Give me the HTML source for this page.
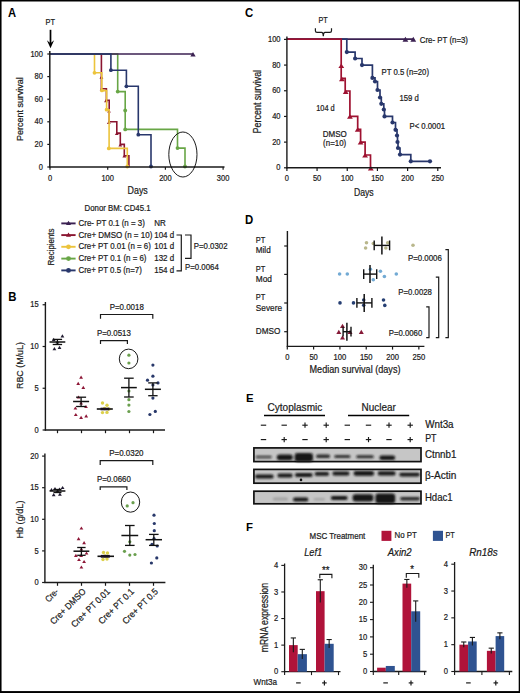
<!DOCTYPE html><html><head><meta charset="utf-8"><style>html,body{margin:0;padding:0;background:#fff;}svg{display:block;font-family:"Liberation Sans",sans-serif;}text{font-family:"Liberation Sans",sans-serif;}</style></head><body><svg width="520" height="693" viewBox="0 0 520 693" font-family="Liberation Sans, sans-serif" fill="#1a1a1a">
<rect x="0.00" y="0.00" width="520.00" height="693.00" fill="#ffffff"/>
<text x="7.90" y="16.60" font-size="11.87" font-weight="bold" fill="#000" textLength="8.09" lengthAdjust="spacingAndGlyphs">A</text>
<text x="50.30" y="25.20" font-size="8.58" text-anchor="middle" textLength="9.46" lengthAdjust="spacingAndGlyphs" stroke="#1a1a1a" stroke-width="0.22">PT</text>
<line x1="50.50" y1="29.80" x2="50.50" y2="44.00" stroke="#000" stroke-width="1.7"/>
<path d="M46.9,40.2 L50.5,48.3 L54.1,40.2 L50.5,43.2Z" fill="#000"/>
<path d="M50,54 H101.4 V88.7 H106.4 V100.3 H109.2 V121.8 H116.8 V133.1 H120.3 V144.4 H124.3 V155.7 H128.9 V167" stroke="#8a1530" stroke-width="1.6" fill="none"/>
<path d="M99.50,78.81 L101.40,75.59 L103.30,78.81Z" fill="#8a1530"/>
<path d="M99.70,90.52 L101.60,87.29 L103.50,90.52Z" fill="#8a1530"/>
<path d="M104.10,102.21 L106.00,98.98 L107.90,102.21Z" fill="#8a1530"/>
<path d="M107.10,112.61 L109.00,109.39 L110.90,112.61Z" fill="#8a1530"/>
<path d="M106.90,123.91 L108.80,120.69 L110.70,123.91Z" fill="#8a1530"/>
<path d="M114.90,135.12 L116.80,131.88 L118.70,135.12Z" fill="#8a1530"/>
<path d="M118.40,146.62 L120.30,143.38 L122.20,146.62Z" fill="#8a1530"/>
<path d="M122.40,157.62 L124.30,154.38 L126.20,157.62Z" fill="#8a1530"/>
<path d="M50,54 H94.5 V72.8 H101.8 V90.6 H106.6 V109.9 H109.1 V148.4 H127.3 V167" stroke="#ecc43c" stroke-width="1.6" fill="none"/>
<circle cx="94.50" cy="72.80" r="1.9" fill="#ecc43c"/>
<circle cx="101.90" cy="90.40" r="1.9" fill="#ecc43c"/>
<circle cx="106.60" cy="109.70" r="1.9" fill="#ecc43c"/>
<circle cx="108.80" cy="148.40" r="1.9" fill="#ecc43c"/>
<circle cx="127.30" cy="166.50" r="1.9" fill="#ecc43c"/>
<path d="M50,54 H117.7 V91.6 H125.2 V129.4 H177.5 V148.1 H185 V167" stroke="#68a646" stroke-width="1.6" fill="none"/>
<circle cx="117.70" cy="91.60" r="1.9" fill="#68a646"/>
<circle cx="125.20" cy="110.50" r="1.9" fill="#68a646"/>
<circle cx="125.20" cy="129.40" r="1.9" fill="#68a646"/>
<circle cx="177.50" cy="148.10" r="1.9" fill="#68a646"/>
<circle cx="185.00" cy="166.50" r="1.9" fill="#68a646"/>
<path d="M49.8,54 H193" stroke="#3b2152" stroke-width="1.6" fill="none"/>
<path d="M190.35,56.55 L193.00,52.05 L195.65,56.55Z" fill="#3b2152"/>
<path d="M50,54 H110.9 V70.2 H126.4 V86.3 H138.3 V134.7 H151 V167" stroke="#28376c" stroke-width="1.6" fill="none"/>
<circle cx="110.90" cy="70.20" r="1.9" fill="#28376c"/>
<circle cx="126.40" cy="86.30" r="1.9" fill="#28376c"/>
<circle cx="138.30" cy="134.70" r="1.9" fill="#28376c"/>
<circle cx="151.00" cy="166.50" r="1.9" fill="#28376c"/>
<line x1="49.80" y1="51.00" x2="49.80" y2="167.60" stroke="#1a1a1a" stroke-width="1.5"/>
<line x1="49.20" y1="167.00" x2="224.50" y2="167.00" stroke="#1a1a1a" stroke-width="1.4"/>
<line x1="47.30" y1="167.00" x2="49.80" y2="167.00" stroke="#1a1a1a" stroke-width="1.2"/>
<text x="42.90" y="169.60" font-size="8.70" text-anchor="end" textLength="4.17" lengthAdjust="spacingAndGlyphs" stroke="#1a1a1a" stroke-width="0.22">0</text>
<line x1="47.30" y1="144.40" x2="49.80" y2="144.40" stroke="#1a1a1a" stroke-width="1.2"/>
<text x="42.90" y="147.00" font-size="8.70" text-anchor="end" textLength="8.34" lengthAdjust="spacingAndGlyphs" stroke="#1a1a1a" stroke-width="0.22">20</text>
<line x1="47.30" y1="121.80" x2="49.80" y2="121.80" stroke="#1a1a1a" stroke-width="1.2"/>
<text x="42.90" y="124.40" font-size="8.70" text-anchor="end" textLength="8.34" lengthAdjust="spacingAndGlyphs" stroke="#1a1a1a" stroke-width="0.22">40</text>
<line x1="47.30" y1="99.20" x2="49.80" y2="99.20" stroke="#1a1a1a" stroke-width="1.2"/>
<text x="42.90" y="101.80" font-size="8.70" text-anchor="end" textLength="8.34" lengthAdjust="spacingAndGlyphs" stroke="#1a1a1a" stroke-width="0.22">60</text>
<line x1="47.30" y1="76.60" x2="49.80" y2="76.60" stroke="#1a1a1a" stroke-width="1.2"/>
<text x="42.90" y="79.20" font-size="8.70" text-anchor="end" textLength="8.34" lengthAdjust="spacingAndGlyphs" stroke="#1a1a1a" stroke-width="0.22">80</text>
<line x1="47.30" y1="54.00" x2="49.80" y2="54.00" stroke="#1a1a1a" stroke-width="1.2"/>
<text x="42.90" y="56.60" font-size="8.70" text-anchor="end" textLength="12.51" lengthAdjust="spacingAndGlyphs" stroke="#1a1a1a" stroke-width="0.22">100</text>
<line x1="50.00" y1="167.00" x2="50.00" y2="169.80" stroke="#1a1a1a" stroke-width="1.2"/>
<text x="50.00" y="181.40" font-size="8.70" text-anchor="middle" textLength="4.17" lengthAdjust="spacingAndGlyphs" stroke="#1a1a1a" stroke-width="0.22">0</text>
<line x1="107.70" y1="167.00" x2="107.70" y2="169.80" stroke="#1a1a1a" stroke-width="1.2"/>
<text x="107.70" y="181.40" font-size="8.70" text-anchor="middle" textLength="12.51" lengthAdjust="spacingAndGlyphs" stroke="#1a1a1a" stroke-width="0.22">100</text>
<line x1="165.40" y1="167.00" x2="165.40" y2="169.80" stroke="#1a1a1a" stroke-width="1.2"/>
<text x="165.40" y="181.40" font-size="8.70" text-anchor="middle" textLength="12.51" lengthAdjust="spacingAndGlyphs" stroke="#1a1a1a" stroke-width="0.22">200</text>
<line x1="223.10" y1="167.00" x2="223.10" y2="169.80" stroke="#1a1a1a" stroke-width="1.2"/>
<text x="223.10" y="181.40" font-size="8.70" text-anchor="middle" textLength="12.51" lengthAdjust="spacingAndGlyphs" stroke="#1a1a1a" stroke-width="0.22">300</text>
<text x="127.60" y="194.30" font-size="10.21" textLength="20.20" lengthAdjust="spacingAndGlyphs" stroke="#1a1a1a" stroke-width="0.22">Days</text>
<text x="23.30" y="141.00" font-size="9.43" textLength="63.80" lengthAdjust="spacingAndGlyphs" transform="rotate(-90 23.30 141.00)" stroke="#1a1a1a" stroke-width="0.22">Percent survival</text>
<ellipse cx="182.9" cy="154.5" rx="14.1" ry="22.5" fill="none" stroke="#000" stroke-width="0.9"/>
<text x="84.60" y="211.00" font-size="8.93" textLength="65.90" lengthAdjust="spacingAndGlyphs" stroke="#1a1a1a" stroke-width="0.22">Donor BM: CD45.1</text>
<line x1="61.30" y1="223.40" x2="75.60" y2="223.40" stroke="#3b2152" stroke-width="1.9"/>
<path d="M66.00,225.03 L68.50,220.78 L71.00,225.03Z" fill="#3b2152"/>
<text x="78.50" y="226.00" font-size="9.28" textLength="66.40" lengthAdjust="spacingAndGlyphs" stroke="#1a1a1a" stroke-width="0.22">Cre- PT 0.1 (n = 3)</text>
<text x="154.20" y="226.00" font-size="9.28" textLength="11.55" lengthAdjust="spacingAndGlyphs" stroke="#1a1a1a" stroke-width="0.22">NR</text>
<line x1="61.30" y1="235.10" x2="75.60" y2="235.10" stroke="#8a1530" stroke-width="1.9"/>
<path d="M66.00,236.72 L68.50,232.47 L71.00,236.72Z" fill="#8a1530"/>
<text x="78.50" y="237.70" font-size="9.28" textLength="73.80" lengthAdjust="spacingAndGlyphs" stroke="#1a1a1a" stroke-width="0.22">Cre+ DMSO (n = 10)</text>
<text x="154.20" y="237.70" font-size="9.28" textLength="20.02" lengthAdjust="spacingAndGlyphs" stroke="#1a1a1a" stroke-width="0.22">104 d</text>
<line x1="61.30" y1="246.80" x2="75.60" y2="246.80" stroke="#ecc43c" stroke-width="1.9"/>
<circle cx="68.50" cy="246.80" r="2.4" fill="#ecc43c"/>
<text x="78.50" y="249.40" font-size="9.28" textLength="72.30" lengthAdjust="spacingAndGlyphs" stroke="#1a1a1a" stroke-width="0.22">Cre+ PT 0.01 (n = 6)</text>
<text x="154.20" y="249.40" font-size="9.28" textLength="20.02" lengthAdjust="spacingAndGlyphs" stroke="#1a1a1a" stroke-width="0.22">101 d</text>
<line x1="61.30" y1="258.60" x2="75.60" y2="258.60" stroke="#68a646" stroke-width="1.9"/>
<circle cx="68.50" cy="258.60" r="2.4" fill="#68a646"/>
<text x="78.50" y="261.20" font-size="9.28" textLength="68.00" lengthAdjust="spacingAndGlyphs" stroke="#1a1a1a" stroke-width="0.22">Cre+ PT 0.1 (n = 6)</text>
<text x="154.20" y="261.20" font-size="9.28" textLength="20.02" lengthAdjust="spacingAndGlyphs" stroke="#1a1a1a" stroke-width="0.22">132 d</text>
<line x1="61.30" y1="270.40" x2="75.60" y2="270.40" stroke="#28376c" stroke-width="1.9"/>
<circle cx="68.50" cy="270.40" r="2.4" fill="#28376c"/>
<text x="78.50" y="273.00" font-size="9.28" textLength="63.30" lengthAdjust="spacingAndGlyphs" stroke="#1a1a1a" stroke-width="0.22">Cre+ PT 0.5 (n=7)</text>
<text x="154.20" y="273.00" font-size="9.28" textLength="20.02" lengthAdjust="spacingAndGlyphs" stroke="#1a1a1a" stroke-width="0.22">154 d</text>
<text x="53.90" y="265.40" font-size="9.16" textLength="36.90" lengthAdjust="spacingAndGlyphs" transform="rotate(-90 53.90 265.40)" stroke="#1a1a1a" stroke-width="0.22">Recipients</text>
<path d="M176.5,235 H181.3 V270.8 H176.5" stroke="#1a1a1a" stroke-width="1.2" fill="none"/>
<path d="M185,235 H191 V258.3 H185" stroke="#1a1a1a" stroke-width="1.2" fill="none"/>
<text x="193.80" y="248.80" font-size="9.05" textLength="33.70" lengthAdjust="spacingAndGlyphs" stroke="#1a1a1a" stroke-width="0.22">P=0.0302</text>
<text x="185.00" y="270.20" font-size="9.05" textLength="33.80" lengthAdjust="spacingAndGlyphs" stroke="#1a1a1a" stroke-width="0.22">P=0.0064</text>
<text x="8.20" y="301.20" font-size="12.08" font-weight="bold" fill="#000" textLength="8.23" lengthAdjust="spacingAndGlyphs">B</text>
<line x1="45.40" y1="302.00" x2="45.40" y2="430.60" stroke="#1a1a1a" stroke-width="1.4"/>
<line x1="44.80" y1="430.00" x2="165.00" y2="430.00" stroke="#1a1a1a" stroke-width="1.4"/>
<line x1="42.60" y1="430.00" x2="45.40" y2="430.00" stroke="#1a1a1a" stroke-width="1.2"/>
<text x="38.70" y="432.60" font-size="8.70" text-anchor="end" textLength="4.17" lengthAdjust="spacingAndGlyphs" stroke="#1a1a1a" stroke-width="0.22">0</text>
<line x1="42.60" y1="388.25" x2="45.40" y2="388.25" stroke="#1a1a1a" stroke-width="1.2"/>
<text x="38.70" y="390.85" font-size="8.70" text-anchor="end" textLength="4.17" lengthAdjust="spacingAndGlyphs" stroke="#1a1a1a" stroke-width="0.22">5</text>
<line x1="42.60" y1="346.50" x2="45.40" y2="346.50" stroke="#1a1a1a" stroke-width="1.2"/>
<text x="38.70" y="349.10" font-size="8.70" text-anchor="end" textLength="8.34" lengthAdjust="spacingAndGlyphs" stroke="#1a1a1a" stroke-width="0.22">10</text>
<line x1="42.60" y1="304.75" x2="45.40" y2="304.75" stroke="#1a1a1a" stroke-width="1.2"/>
<text x="38.70" y="307.35" font-size="8.70" text-anchor="end" textLength="8.34" lengthAdjust="spacingAndGlyphs" stroke="#1a1a1a" stroke-width="0.22">15</text>
<line x1="57.50" y1="430.00" x2="57.50" y2="433.20" stroke="#1a1a1a" stroke-width="1.2"/>
<line x1="81.50" y1="430.00" x2="81.50" y2="433.20" stroke="#1a1a1a" stroke-width="1.2"/>
<line x1="105.50" y1="430.00" x2="105.50" y2="433.20" stroke="#1a1a1a" stroke-width="1.2"/>
<line x1="129.50" y1="430.00" x2="129.50" y2="433.20" stroke="#1a1a1a" stroke-width="1.2"/>
<line x1="153.50" y1="430.00" x2="153.50" y2="433.20" stroke="#1a1a1a" stroke-width="1.2"/>
<text x="22.60" y="389.00" font-size="9.63" textLength="47.00" lengthAdjust="spacingAndGlyphs" transform="rotate(-90 22.60 389.00)" stroke="#1a1a1a" stroke-width="0.22">RBC (M/uL)</text>
<line x1="44.90" y1="453.50" x2="44.90" y2="583.10" stroke="#1a1a1a" stroke-width="1.4"/>
<line x1="44.30" y1="582.50" x2="165.40" y2="582.50" stroke="#1a1a1a" stroke-width="1.4"/>
<line x1="42.10" y1="582.50" x2="44.90" y2="582.50" stroke="#1a1a1a" stroke-width="1.2"/>
<text x="38.70" y="585.10" font-size="8.70" text-anchor="end" textLength="4.17" lengthAdjust="spacingAndGlyphs" stroke="#1a1a1a" stroke-width="0.22">0</text>
<line x1="42.10" y1="550.90" x2="44.90" y2="550.90" stroke="#1a1a1a" stroke-width="1.2"/>
<text x="38.70" y="553.50" font-size="8.70" text-anchor="end" textLength="4.17" lengthAdjust="spacingAndGlyphs" stroke="#1a1a1a" stroke-width="0.22">5</text>
<line x1="42.10" y1="519.30" x2="44.90" y2="519.30" stroke="#1a1a1a" stroke-width="1.2"/>
<text x="38.70" y="521.90" font-size="8.70" text-anchor="end" textLength="8.34" lengthAdjust="spacingAndGlyphs" stroke="#1a1a1a" stroke-width="0.22">10</text>
<line x1="42.10" y1="487.70" x2="44.90" y2="487.70" stroke="#1a1a1a" stroke-width="1.2"/>
<text x="38.70" y="490.30" font-size="8.70" text-anchor="end" textLength="8.34" lengthAdjust="spacingAndGlyphs" stroke="#1a1a1a" stroke-width="0.22">15</text>
<line x1="42.10" y1="456.10" x2="44.90" y2="456.10" stroke="#1a1a1a" stroke-width="1.2"/>
<text x="38.70" y="458.70" font-size="8.70" text-anchor="end" textLength="8.34" lengthAdjust="spacingAndGlyphs" stroke="#1a1a1a" stroke-width="0.22">20</text>
<line x1="57.50" y1="582.50" x2="57.50" y2="585.80" stroke="#1a1a1a" stroke-width="1.2"/>
<line x1="81.50" y1="582.50" x2="81.50" y2="585.80" stroke="#1a1a1a" stroke-width="1.2"/>
<line x1="105.50" y1="582.50" x2="105.50" y2="585.80" stroke="#1a1a1a" stroke-width="1.2"/>
<line x1="129.50" y1="582.50" x2="129.50" y2="585.80" stroke="#1a1a1a" stroke-width="1.2"/>
<line x1="153.50" y1="582.50" x2="153.50" y2="585.80" stroke="#1a1a1a" stroke-width="1.2"/>
<text x="22.60" y="538.60" font-size="9.63" textLength="38.10" lengthAdjust="spacingAndGlyphs" transform="rotate(-90 22.60 538.60)" stroke="#1a1a1a" stroke-width="0.22">Hb (g/dL)</text>
<text x="59.10" y="592.20" font-size="8.82" text-anchor="end" textLength="14.78" lengthAdjust="spacingAndGlyphs" transform="rotate(-45 59.10 592.20)" stroke="#1a1a1a" stroke-width="0.22">Cre-</text>
<text x="86.50" y="592.20" font-size="9.05" text-anchor="end" textLength="46.38" lengthAdjust="spacingAndGlyphs" transform="rotate(-45 86.50 592.20)" stroke="#1a1a1a" stroke-width="0.22">Cre+ DMSO</text>
<text x="110.50" y="592.20" font-size="9.05" text-anchor="end" textLength="50.63" lengthAdjust="spacingAndGlyphs" transform="rotate(-45 110.50 592.20)" stroke="#1a1a1a" stroke-width="0.22">Cre+ PT 0.01</text>
<text x="134.50" y="592.20" font-size="9.05" text-anchor="end" textLength="45.92" lengthAdjust="spacingAndGlyphs" transform="rotate(-45 134.50 592.20)" stroke="#1a1a1a" stroke-width="0.22">Cre+ PT 0.1</text>
<text x="158.50" y="592.20" font-size="9.05" text-anchor="end" textLength="45.92" lengthAdjust="spacingAndGlyphs" transform="rotate(-45 158.50 592.20)" stroke="#1a1a1a" stroke-width="0.22">Cre+ PT 0.5</text>
<path d="M100.5,318.8 V314.5 H152.8 V318.8" stroke="#1a1a1a" stroke-width="1.2" fill="none"/>
<text x="109.70" y="309.60" font-size="9.05" textLength="34.10" lengthAdjust="spacingAndGlyphs" stroke="#1a1a1a" stroke-width="0.22">P=0.0018</text>
<path d="M100.5,344 V340.7 H127.4 V344" stroke="#1a1a1a" stroke-width="1.2" fill="none"/>
<text x="96.90" y="335.80" font-size="9.05" textLength="33.90" lengthAdjust="spacingAndGlyphs" stroke="#1a1a1a" stroke-width="0.22">P=0.0513</text>
<path d="M100.2,465 V460.7 H152.8 V465" stroke="#1a1a1a" stroke-width="1.2" fill="none"/>
<text x="109.20" y="456.10" font-size="9.05" textLength="34.30" lengthAdjust="spacingAndGlyphs" stroke="#1a1a1a" stroke-width="0.22">P=0.0320</text>
<path d="M100.2,490 V486.8 H126.9 V490" stroke="#1a1a1a" stroke-width="1.2" fill="none"/>
<text x="96.90" y="481.90" font-size="9.05" textLength="33.90" lengthAdjust="spacingAndGlyphs" stroke="#1a1a1a" stroke-width="0.22">P=0.0660</text>
<ellipse cx="128.6" cy="358.9" rx="9.3" ry="9.8" fill="none" stroke="#000" stroke-width="0.9"/>
<ellipse cx="130.5" cy="502.1" rx="9.2" ry="10.1" fill="none" stroke="#000" stroke-width="0.9"/>
<path d="M60.50,337.42 L62.40,334.19 L64.30,337.42Z" fill="#221d33"/>
<path d="M51.80,341.01 L53.70,337.78 L55.60,341.01Z" fill="#221d33"/>
<path d="M52.50,350.22 L54.40,346.99 L56.30,350.22Z" fill="#221d33"/>
<path d="M57.60,349.01 L59.50,345.78 L61.40,349.01Z" fill="#221d33"/>
<path d="M55.50,343.62 L57.40,340.38 L59.30,343.62Z" fill="#221d33"/>
<line x1="49.50" y1="342.00" x2="65.30" y2="342.00" stroke="#111" stroke-width="1.5"/>
<line x1="57.40" y1="339.40" x2="57.40" y2="344.50" stroke="#111" stroke-width="1.3"/>
<line x1="52.70" y1="339.40" x2="62.10" y2="339.40" stroke="#111" stroke-width="1.3"/>
<line x1="52.70" y1="344.50" x2="62.10" y2="344.50" stroke="#111" stroke-width="1.3"/>
<path d="M79.20,378.81 L81.10,375.58 L83.00,378.81Z" fill="#8d1636"/>
<path d="M76.30,385.01 L78.20,381.78 L80.10,385.01Z" fill="#8d1636"/>
<path d="M81.40,388.92 L83.30,385.69 L85.20,388.92Z" fill="#8d1636"/>
<path d="M76.60,398.62 L78.50,395.38 L80.40,398.62Z" fill="#8d1636"/>
<path d="M73.50,409.62 L75.40,406.38 L77.30,409.62Z" fill="#8d1636"/>
<path d="M84.10,408.12 L86.00,404.88 L87.90,408.12Z" fill="#8d1636"/>
<path d="M73.90,416.12 L75.80,412.88 L77.70,416.12Z" fill="#8d1636"/>
<path d="M79.20,419.01 L81.10,415.78 L83.00,419.01Z" fill="#8d1636"/>
<path d="M84.30,417.51 L86.20,414.28 L88.10,417.51Z" fill="#8d1636"/>
<path d="M79.20,404.62 L81.10,401.38 L83.00,404.62Z" fill="#8d1636"/>
<line x1="73.10" y1="401.50" x2="89.10" y2="401.50" stroke="#111" stroke-width="1.5"/>
<line x1="81.10" y1="397.20" x2="81.10" y2="406.50" stroke="#111" stroke-width="1.3"/>
<line x1="76.10" y1="397.20" x2="86.10" y2="397.20" stroke="#111" stroke-width="1.3"/>
<line x1="76.10" y1="406.50" x2="86.10" y2="406.50" stroke="#111" stroke-width="1.3"/>
<circle cx="102.50" cy="403.00" r="1.7" fill="#dcd04a"/>
<circle cx="107.00" cy="405.30" r="1.7" fill="#dcd04a"/>
<circle cx="102.50" cy="412.60" r="1.7" fill="#dcd04a"/>
<circle cx="107.00" cy="412.40" r="1.7" fill="#dcd04a"/>
<circle cx="104.50" cy="408.50" r="1.7" fill="#dcd04a"/>
<circle cx="109.00" cy="409.00" r="1.7" fill="#dcd04a"/>
<line x1="96.80" y1="409.00" x2="112.80" y2="409.00" stroke="#111" stroke-width="1.6"/>
<line x1="100.50" y1="409.00" x2="109.20" y2="409.00" stroke="#1a1020" stroke-width="2.6"/>
<circle cx="128.90" cy="355.20" r="1.6" fill="#6a9f4e"/>
<circle cx="128.90" cy="363.00" r="1.6" fill="#6a9f4e"/>
<circle cx="128.90" cy="391.00" r="1.6" fill="#6a9f4e"/>
<circle cx="128.90" cy="399.70" r="1.6" fill="#6a9f4e"/>
<circle cx="128.90" cy="405.10" r="1.6" fill="#6a9f4e"/>
<circle cx="128.90" cy="411.50" r="1.6" fill="#6a9f4e"/>
<line x1="121.00" y1="387.60" x2="136.80" y2="387.60" stroke="#111" stroke-width="1.5"/>
<line x1="128.90" y1="378.20" x2="128.90" y2="397.00" stroke="#111" stroke-width="1.3"/>
<line x1="124.10" y1="378.20" x2="133.70" y2="378.20" stroke="#111" stroke-width="1.3"/>
<line x1="124.10" y1="397.00" x2="133.70" y2="397.00" stroke="#111" stroke-width="1.3"/>
<circle cx="152.90" cy="365.10" r="1.6" fill="#28386a"/>
<circle cx="152.90" cy="376.20" r="1.6" fill="#28386a"/>
<circle cx="147.50" cy="380.20" r="1.6" fill="#28386a"/>
<circle cx="158.00" cy="382.90" r="1.6" fill="#28386a"/>
<circle cx="152.90" cy="385.00" r="1.6" fill="#28386a"/>
<circle cx="152.90" cy="398.10" r="1.6" fill="#28386a"/>
<circle cx="155.30" cy="411.40" r="1.6" fill="#28386a"/>
<circle cx="149.90" cy="414.50" r="1.6" fill="#28386a"/>
<line x1="144.90" y1="389.30" x2="160.90" y2="389.30" stroke="#111" stroke-width="1.5"/>
<line x1="152.90" y1="382.90" x2="152.90" y2="395.70" stroke="#111" stroke-width="1.3"/>
<line x1="148.20" y1="382.90" x2="157.60" y2="382.90" stroke="#111" stroke-width="1.3"/>
<line x1="148.20" y1="395.70" x2="157.60" y2="395.70" stroke="#111" stroke-width="1.3"/>
<path d="M49.60,491.12 L51.50,487.88 L53.40,491.12Z" fill="#221d33"/>
<path d="M53.10,490.12 L55.00,486.88 L56.90,490.12Z" fill="#221d33"/>
<path d="M57.60,490.62 L59.50,487.38 L61.40,490.62Z" fill="#221d33"/>
<path d="M60.70,489.12 L62.60,485.88 L64.50,489.12Z" fill="#221d33"/>
<path d="M51.80,496.22 L53.70,492.99 L55.60,496.22Z" fill="#221d33"/>
<path d="M58.00,495.81 L59.90,492.58 L61.80,495.81Z" fill="#221d33"/>
<path d="M55.60,492.62 L57.50,489.38 L59.40,492.62Z" fill="#221d33"/>
<line x1="49.60" y1="491.00" x2="65.40" y2="491.00" stroke="#111" stroke-width="1.5"/>
<line x1="57.50" y1="489.50" x2="57.50" y2="492.50" stroke="#111" stroke-width="1.3"/>
<line x1="53.50" y1="489.50" x2="61.50" y2="489.50" stroke="#111" stroke-width="1.3"/>
<line x1="53.50" y1="492.50" x2="61.50" y2="492.50" stroke="#111" stroke-width="1.3"/>
<path d="M79.50,529.62 L81.40,526.38 L83.30,529.62Z" fill="#8d1636"/>
<path d="M76.70,540.22 L78.60,536.99 L80.50,540.22Z" fill="#8d1636"/>
<path d="M82.20,544.32 L84.10,541.09 L86.00,544.32Z" fill="#8d1636"/>
<path d="M74.00,556.91 L75.90,553.68 L77.80,556.91Z" fill="#8d1636"/>
<path d="M79.20,556.91 L81.10,553.68 L83.00,556.91Z" fill="#8d1636"/>
<path d="M84.60,554.62 L86.50,551.38 L88.40,554.62Z" fill="#8d1636"/>
<path d="M77.10,561.12 L79.00,557.88 L80.90,561.12Z" fill="#8d1636"/>
<path d="M82.20,563.12 L84.10,559.88 L86.00,563.12Z" fill="#8d1636"/>
<path d="M79.50,568.62 L81.40,565.38 L83.30,568.62Z" fill="#8d1636"/>
<path d="M79.50,550.62 L81.40,547.38 L83.30,550.62Z" fill="#8d1636"/>
<line x1="73.50" y1="551.20" x2="89.30" y2="551.20" stroke="#111" stroke-width="1.5"/>
<line x1="81.40" y1="547.50" x2="81.40" y2="555.30" stroke="#111" stroke-width="1.3"/>
<line x1="77.20" y1="547.50" x2="85.60" y2="547.50" stroke="#111" stroke-width="1.3"/>
<line x1="77.20" y1="555.30" x2="85.60" y2="555.30" stroke="#111" stroke-width="1.3"/>
<circle cx="103.50" cy="552.50" r="1.7" fill="#dcd04a"/>
<circle cx="107.50" cy="553.00" r="1.7" fill="#dcd04a"/>
<circle cx="103.00" cy="559.50" r="1.7" fill="#dcd04a"/>
<circle cx="107.00" cy="559.00" r="1.7" fill="#dcd04a"/>
<circle cx="105.00" cy="556.00" r="1.7" fill="#dcd04a"/>
<line x1="97.50" y1="556.30" x2="114.00" y2="556.30" stroke="#111" stroke-width="1.6"/>
<line x1="100.80" y1="556.30" x2="109.80" y2="556.30" stroke="#1a1020" stroke-width="2.8"/>
<circle cx="127.20" cy="505.90" r="1.6" fill="#6a9f4e"/>
<circle cx="133.00" cy="502.70" r="1.6" fill="#6a9f4e"/>
<circle cx="124.50" cy="551.30" r="1.6" fill="#6a9f4e"/>
<circle cx="129.80" cy="555.10" r="1.6" fill="#6a9f4e"/>
<circle cx="135.00" cy="554.50" r="1.6" fill="#6a9f4e"/>
<circle cx="129.80" cy="541.80" r="1.6" fill="#6a9f4e"/>
<line x1="121.40" y1="535.50" x2="138.20" y2="535.50" stroke="#111" stroke-width="1.5"/>
<line x1="129.80" y1="525.50" x2="129.80" y2="545.40" stroke="#111" stroke-width="1.3"/>
<line x1="125.00" y1="525.50" x2="134.60" y2="525.50" stroke="#111" stroke-width="1.3"/>
<line x1="125.00" y1="545.40" x2="134.60" y2="545.40" stroke="#111" stroke-width="1.3"/>
<circle cx="154.00" cy="515.20" r="1.6" fill="#28386a"/>
<circle cx="154.30" cy="523.50" r="1.6" fill="#28386a"/>
<circle cx="154.30" cy="530.70" r="1.6" fill="#28386a"/>
<circle cx="154.00" cy="538.50" r="1.6" fill="#28386a"/>
<circle cx="152.00" cy="544.30" r="1.6" fill="#28386a"/>
<circle cx="157.20" cy="546.00" r="1.6" fill="#28386a"/>
<circle cx="156.80" cy="557.90" r="1.6" fill="#28386a"/>
<circle cx="151.40" cy="563.00" r="1.6" fill="#28386a"/>
<line x1="145.60" y1="539.70" x2="162.00" y2="539.70" stroke="#111" stroke-width="1.5"/>
<line x1="153.80" y1="534.40" x2="153.80" y2="545.40" stroke="#111" stroke-width="1.3"/>
<line x1="149.00" y1="534.40" x2="158.60" y2="534.40" stroke="#111" stroke-width="1.3"/>
<line x1="149.00" y1="545.40" x2="158.60" y2="545.40" stroke="#111" stroke-width="1.3"/>
<text x="244.90" y="16.60" font-size="12.08" font-weight="bold" fill="#000" textLength="8.23" lengthAdjust="spacingAndGlyphs">C</text>
<text x="318.50" y="22.70" font-size="8.58" textLength="9.20" lengthAdjust="spacingAndGlyphs" stroke="#1a1a1a" stroke-width="0.22">PT</text>
<path d="M315.4,28.2 V30.8 Q315.4,32.4 317,32.4 H321.6 Q323.2,32.4 323.3,36.2 Q323.4,32.4 325,32.4 H329.9 Q331.5,32.4 331.5,30.8 V28.2" stroke="#1a1a1a" stroke-width="1.2" fill="none"/>
<path d="M286.9,39.1 H413" stroke="#3b2152" stroke-width="1.6" fill="none"/>
<path d="M402.50,41.67 L405.40,36.73 L408.30,41.67Z" fill="#3b2152"/>
<path d="M410.40,41.67 L413.30,36.73 L416.20,41.67Z" fill="#3b2152"/>
<text x="419.80" y="42.60" font-size="8.82" textLength="48.20" lengthAdjust="spacingAndGlyphs" stroke="#1a1a1a" stroke-width="0.22">Cre- PT (n=3)</text>
<path d="M286.9,39.1 H346.8 H346.8 V52.1 H355.1 V58.5 H362.0 V65.1 H372.4 V77.9 H375.0 V81.5 H377.5 V90.0 H380.0 V97.5 H381.3 V103.8 H383.8 V109.5 H384.5 V116.4 H392.5 V122.5 H395.5 V129.8 H397.0 V135.5 H397.5 V142.0 H398.0 V148.0 H400.0 V154.6 H410.8 V161.3 H430" stroke="#28376c" stroke-width="1.7" fill="none"/>
<circle cx="346.80" cy="52.10" r="2.1" fill="#28376c"/>
<circle cx="355.10" cy="58.50" r="2.1" fill="#28376c"/>
<circle cx="362.00" cy="65.10" r="2.1" fill="#28376c"/>
<circle cx="372.40" cy="77.90" r="2.1" fill="#28376c"/>
<circle cx="375.00" cy="81.50" r="2.1" fill="#28376c"/>
<circle cx="377.50" cy="90.00" r="2.1" fill="#28376c"/>
<circle cx="380.00" cy="97.50" r="2.1" fill="#28376c"/>
<circle cx="381.30" cy="103.80" r="2.1" fill="#28376c"/>
<circle cx="383.80" cy="109.50" r="2.1" fill="#28376c"/>
<circle cx="384.50" cy="116.40" r="2.1" fill="#28376c"/>
<circle cx="392.50" cy="122.50" r="2.1" fill="#28376c"/>
<circle cx="395.50" cy="129.80" r="2.1" fill="#28376c"/>
<circle cx="397.00" cy="135.50" r="2.1" fill="#28376c"/>
<circle cx="397.50" cy="142.00" r="2.1" fill="#28376c"/>
<circle cx="398.00" cy="148.00" r="2.1" fill="#28376c"/>
<circle cx="400.00" cy="154.60" r="2.1" fill="#28376c"/>
<circle cx="410.80" cy="161.30" r="2.1" fill="#28376c"/>
<circle cx="430.00" cy="161.30" r="2.1" fill="#28376c"/>
<path d="M286.9,39.1 H341.2 V78.4 H345.2 V91 H349.9 V116.4 H357.7 V129.3 H360.6 V142.1 H365.1 V155 H370.5 V167.8" stroke="#9e1231" stroke-width="1.7" fill="none"/>
<path d="M338.40,68.06 L341.30,63.54 L344.20,68.06Z" fill="#9e1231"/>
<path d="M339.00,81.26 L341.90,76.74 L344.80,81.26Z" fill="#9e1231"/>
<path d="M342.80,93.96 L345.70,89.44 L348.60,93.96Z" fill="#9e1231"/>
<path d="M347.00,118.86 L349.90,114.34 L352.80,118.86Z" fill="#9e1231"/>
<path d="M354.80,131.76 L357.70,127.24 L360.60,131.76Z" fill="#9e1231"/>
<path d="M357.70,144.56 L360.60,140.04 L363.50,144.56Z" fill="#9e1231"/>
<path d="M362.20,157.46 L365.10,152.94 L368.00,157.46Z" fill="#9e1231"/>
<path d="M367.90,170.46 L370.80,165.94 L373.70,170.46Z" fill="#9e1231"/>
<line x1="286.90" y1="36.50" x2="286.90" y2="168.40" stroke="#1a1a1a" stroke-width="1.4"/>
<line x1="286.30" y1="167.80" x2="441.00" y2="167.80" stroke="#1a1a1a" stroke-width="1.4"/>
<line x1="284.00" y1="167.80" x2="286.90" y2="167.80" stroke="#1a1a1a" stroke-width="1.2"/>
<text x="280.50" y="170.40" font-size="8.70" text-anchor="end" textLength="4.17" lengthAdjust="spacingAndGlyphs" stroke="#1a1a1a" stroke-width="0.22">0</text>
<line x1="284.00" y1="142.12" x2="286.90" y2="142.12" stroke="#1a1a1a" stroke-width="1.2"/>
<text x="280.50" y="144.72" font-size="8.70" text-anchor="end" textLength="8.34" lengthAdjust="spacingAndGlyphs" stroke="#1a1a1a" stroke-width="0.22">20</text>
<line x1="284.00" y1="116.44" x2="286.90" y2="116.44" stroke="#1a1a1a" stroke-width="1.2"/>
<text x="280.50" y="119.04" font-size="8.70" text-anchor="end" textLength="8.34" lengthAdjust="spacingAndGlyphs" stroke="#1a1a1a" stroke-width="0.22">40</text>
<line x1="284.00" y1="90.76" x2="286.90" y2="90.76" stroke="#1a1a1a" stroke-width="1.2"/>
<text x="280.50" y="93.36" font-size="8.70" text-anchor="end" textLength="8.34" lengthAdjust="spacingAndGlyphs" stroke="#1a1a1a" stroke-width="0.22">60</text>
<line x1="284.00" y1="65.08" x2="286.90" y2="65.08" stroke="#1a1a1a" stroke-width="1.2"/>
<text x="280.50" y="67.68" font-size="8.70" text-anchor="end" textLength="8.34" lengthAdjust="spacingAndGlyphs" stroke="#1a1a1a" stroke-width="0.22">80</text>
<line x1="284.00" y1="39.40" x2="286.90" y2="39.40" stroke="#1a1a1a" stroke-width="1.2"/>
<text x="280.50" y="42.00" font-size="8.70" text-anchor="end" textLength="12.51" lengthAdjust="spacingAndGlyphs" stroke="#1a1a1a" stroke-width="0.22">100</text>
<line x1="286.90" y1="167.80" x2="286.90" y2="171.00" stroke="#1a1a1a" stroke-width="1.2"/>
<text x="286.90" y="181.20" font-size="8.70" text-anchor="middle" textLength="4.17" lengthAdjust="spacingAndGlyphs" stroke="#1a1a1a" stroke-width="0.22">0</text>
<line x1="317.07" y1="167.80" x2="317.07" y2="171.00" stroke="#1a1a1a" stroke-width="1.2"/>
<text x="317.07" y="181.20" font-size="8.70" text-anchor="middle" textLength="8.34" lengthAdjust="spacingAndGlyphs" stroke="#1a1a1a" stroke-width="0.22">50</text>
<line x1="347.25" y1="167.80" x2="347.25" y2="171.00" stroke="#1a1a1a" stroke-width="1.2"/>
<text x="347.25" y="181.20" font-size="8.70" text-anchor="middle" textLength="12.51" lengthAdjust="spacingAndGlyphs" stroke="#1a1a1a" stroke-width="0.22">100</text>
<line x1="377.42" y1="167.80" x2="377.42" y2="171.00" stroke="#1a1a1a" stroke-width="1.2"/>
<text x="377.42" y="181.20" font-size="8.70" text-anchor="middle" textLength="12.51" lengthAdjust="spacingAndGlyphs" stroke="#1a1a1a" stroke-width="0.22">150</text>
<line x1="407.60" y1="167.80" x2="407.60" y2="171.00" stroke="#1a1a1a" stroke-width="1.2"/>
<text x="407.60" y="181.20" font-size="8.70" text-anchor="middle" textLength="12.51" lengthAdjust="spacingAndGlyphs" stroke="#1a1a1a" stroke-width="0.22">200</text>
<line x1="437.77" y1="167.80" x2="437.77" y2="171.00" stroke="#1a1a1a" stroke-width="1.2"/>
<text x="437.77" y="181.20" font-size="8.70" text-anchor="middle" textLength="12.51" lengthAdjust="spacingAndGlyphs" stroke="#1a1a1a" stroke-width="0.22">250</text>
<text x="353.90" y="195.70" font-size="10.21" textLength="19.80" lengthAdjust="spacingAndGlyphs" stroke="#1a1a1a" stroke-width="0.22">Days</text>
<text x="261.30" y="133.40" font-size="10.23" textLength="63.50" lengthAdjust="spacingAndGlyphs" transform="rotate(-90 261.30 133.40)" stroke="#1a1a1a" stroke-width="0.22">Percent survival</text>
<text x="381.50" y="74.50" font-size="8.82" textLength="47.50" lengthAdjust="spacingAndGlyphs" stroke="#1a1a1a" stroke-width="0.22">PT 0.5 (n=20)</text>
<text x="316.20" y="110.60" font-size="8.82" textLength="18.50" lengthAdjust="spacingAndGlyphs" stroke="#1a1a1a" stroke-width="0.22">104 d</text>
<text x="399.50" y="100.60" font-size="8.82" textLength="19.30" lengthAdjust="spacingAndGlyphs" stroke="#1a1a1a" stroke-width="0.22">159 d</text>
<text x="322.70" y="137.20" font-size="8.82" textLength="24.00" lengthAdjust="spacingAndGlyphs" stroke="#1a1a1a" stroke-width="0.22">DMSO</text>
<text x="323.10" y="146.00" font-size="8.82" textLength="23.10" lengthAdjust="spacingAndGlyphs" stroke="#1a1a1a" stroke-width="0.22">(n=10)</text>
<text x="409.50" y="129.40" font-size="8.82" textLength="35.50" lengthAdjust="spacingAndGlyphs" stroke="#1a1a1a" stroke-width="0.22">P&lt; 0.0001</text>
<text x="245.00" y="224.20" font-size="12.08" font-weight="bold" fill="#000" textLength="8.23" lengthAdjust="spacingAndGlyphs">D</text>
<line x1="287.40" y1="231.00" x2="287.40" y2="347.00" stroke="#1a1a1a" stroke-width="1.4"/>
<line x1="286.80" y1="346.40" x2="424.40" y2="346.40" stroke="#1a1a1a" stroke-width="1.4"/>
<line x1="284.20" y1="246.00" x2="287.40" y2="246.00" stroke="#1a1a1a" stroke-width="1.2"/>
<line x1="284.20" y1="274.40" x2="287.40" y2="274.40" stroke="#1a1a1a" stroke-width="1.2"/>
<line x1="284.20" y1="303.00" x2="287.40" y2="303.00" stroke="#1a1a1a" stroke-width="1.2"/>
<line x1="284.20" y1="331.70" x2="287.40" y2="331.70" stroke="#1a1a1a" stroke-width="1.2"/>
<line x1="287.30" y1="346.40" x2="287.30" y2="349.60" stroke="#1a1a1a" stroke-width="1.2"/>
<text x="287.30" y="359.80" font-size="8.82" text-anchor="middle" textLength="4.23" lengthAdjust="spacingAndGlyphs" stroke="#1a1a1a" stroke-width="0.22">0</text>
<line x1="313.61" y1="346.40" x2="313.61" y2="349.60" stroke="#1a1a1a" stroke-width="1.2"/>
<text x="313.61" y="359.80" font-size="8.82" text-anchor="middle" textLength="8.45" lengthAdjust="spacingAndGlyphs" stroke="#1a1a1a" stroke-width="0.22">50</text>
<line x1="339.92" y1="346.40" x2="339.92" y2="349.60" stroke="#1a1a1a" stroke-width="1.2"/>
<text x="339.92" y="359.80" font-size="8.82" text-anchor="middle" textLength="12.68" lengthAdjust="spacingAndGlyphs" stroke="#1a1a1a" stroke-width="0.22">100</text>
<line x1="366.23" y1="346.40" x2="366.23" y2="349.60" stroke="#1a1a1a" stroke-width="1.2"/>
<text x="366.23" y="359.80" font-size="8.82" text-anchor="middle" textLength="12.68" lengthAdjust="spacingAndGlyphs" stroke="#1a1a1a" stroke-width="0.22">150</text>
<line x1="392.54" y1="346.40" x2="392.54" y2="349.60" stroke="#1a1a1a" stroke-width="1.2"/>
<text x="392.54" y="359.80" font-size="8.82" text-anchor="middle" textLength="12.68" lengthAdjust="spacingAndGlyphs" stroke="#1a1a1a" stroke-width="0.22">200</text>
<line x1="418.85" y1="346.40" x2="418.85" y2="349.60" stroke="#1a1a1a" stroke-width="1.2"/>
<text x="418.85" y="359.80" font-size="8.82" text-anchor="middle" textLength="12.68" lengthAdjust="spacingAndGlyphs" stroke="#1a1a1a" stroke-width="0.22">250</text>
<text x="309.50" y="372.60" font-size="10.21" textLength="91.00" lengthAdjust="spacingAndGlyphs" stroke="#1a1a1a" stroke-width="0.22">Median survival (days)</text>
<text x="255.80" y="243.00" font-size="9.28" textLength="9.50" lengthAdjust="spacingAndGlyphs" stroke="#1a1a1a" stroke-width="0.22">PT</text>
<text x="255.80" y="253.20" font-size="9.28" textLength="14.90" lengthAdjust="spacingAndGlyphs" stroke="#1a1a1a" stroke-width="0.22">Mild</text>
<text x="255.80" y="271.80" font-size="9.28" textLength="9.50" lengthAdjust="spacingAndGlyphs" stroke="#1a1a1a" stroke-width="0.22">PT</text>
<text x="255.80" y="281.90" font-size="9.28" textLength="16.20" lengthAdjust="spacingAndGlyphs" stroke="#1a1a1a" stroke-width="0.22">Mod</text>
<text x="255.80" y="300.00" font-size="9.28" textLength="9.50" lengthAdjust="spacingAndGlyphs" stroke="#1a1a1a" stroke-width="0.22">PT</text>
<text x="255.80" y="310.80" font-size="9.28" textLength="26.20" lengthAdjust="spacingAndGlyphs" stroke="#1a1a1a" stroke-width="0.22">Severe</text>
<text x="255.80" y="334.40" font-size="9.28" textLength="24.60" lengthAdjust="spacingAndGlyphs" stroke="#1a1a1a" stroke-width="0.22">DMSO</text>
<circle cx="366.50" cy="242.70" r="1.8" fill="#b9b78c"/>
<circle cx="365.60" cy="248.00" r="1.8" fill="#b9b78c"/>
<circle cx="373.30" cy="243.50" r="1.8" fill="#b9b78c"/>
<circle cx="387.70" cy="242.70" r="1.8" fill="#b9b78c"/>
<circle cx="385.80" cy="248.00" r="1.8" fill="#b9b78c"/>
<circle cx="413.00" cy="245.20" r="1.8" fill="#b9b78c"/>
<line x1="381.90" y1="236.40" x2="381.90" y2="254.40" stroke="#111" stroke-width="1.5"/>
<line x1="374.20" y1="245.40" x2="389.60" y2="245.40" stroke="#111" stroke-width="1.4"/>
<line x1="374.20" y1="240.50" x2="374.20" y2="250.30" stroke="#111" stroke-width="1.4"/>
<line x1="389.60" y1="240.50" x2="389.60" y2="250.30" stroke="#111" stroke-width="1.4"/>
<circle cx="339.60" cy="274.00" r="1.8" fill="#72aad4"/>
<circle cx="347.30" cy="274.00" r="1.8" fill="#72aad4"/>
<circle cx="380.40" cy="271.20" r="1.8" fill="#72aad4"/>
<circle cx="384.40" cy="276.50" r="1.8" fill="#72aad4"/>
<circle cx="373.30" cy="279.80" r="1.8" fill="#72aad4"/>
<circle cx="396.30" cy="274.00" r="1.8" fill="#72aad4"/>
<circle cx="370.40" cy="269.20" r="1.8" fill="#72aad4"/>
<line x1="370.00" y1="265.10" x2="370.00" y2="283.10" stroke="#111" stroke-width="1.5"/>
<line x1="363.70" y1="274.10" x2="376.70" y2="274.10" stroke="#111" stroke-width="1.4"/>
<line x1="363.70" y1="269.20" x2="363.70" y2="279.00" stroke="#111" stroke-width="1.4"/>
<line x1="376.70" y1="269.20" x2="376.70" y2="279.00" stroke="#111" stroke-width="1.4"/>
<circle cx="340.00" cy="302.90" r="1.8" fill="#263f73"/>
<circle cx="353.50" cy="302.90" r="1.8" fill="#263f73"/>
<circle cx="363.70" cy="300.00" r="1.8" fill="#263f73"/>
<circle cx="363.70" cy="305.20" r="1.8" fill="#263f73"/>
<circle cx="383.50" cy="300.00" r="1.8" fill="#263f73"/>
<circle cx="384.80" cy="305.40" r="1.8" fill="#263f73"/>
<line x1="364.20" y1="293.90" x2="364.20" y2="311.90" stroke="#111" stroke-width="1.5"/>
<line x1="356.90" y1="302.90" x2="371.90" y2="302.90" stroke="#111" stroke-width="1.4"/>
<line x1="356.90" y1="298.00" x2="356.90" y2="307.80" stroke="#111" stroke-width="1.4"/>
<line x1="371.90" y1="298.00" x2="371.90" y2="307.80" stroke="#111" stroke-width="1.4"/>
<path d="M336.30,334.02 L338.80,329.77 L341.30,334.02Z" fill="#861a38"/>
<path d="M340.00,327.93 L342.50,323.68 L345.00,327.93Z" fill="#861a38"/>
<path d="M340.00,339.52 L342.50,335.27 L345.00,339.52Z" fill="#861a38"/>
<path d="M347.50,334.02 L350.00,329.77 L352.50,334.02Z" fill="#861a38"/>
<path d="M358.80,334.02 L361.30,329.77 L363.80,334.02Z" fill="#861a38"/>
<line x1="346.90" y1="322.70" x2="346.90" y2="340.70" stroke="#111" stroke-width="1.5"/>
<line x1="343.10" y1="331.70" x2="351.00" y2="331.70" stroke="#111" stroke-width="1.4"/>
<line x1="343.10" y1="326.80" x2="343.10" y2="336.60" stroke="#111" stroke-width="1.4"/>
<line x1="351.00" y1="326.80" x2="351.00" y2="336.60" stroke="#111" stroke-width="1.4"/>
<path d="M445.4,249.6 H448.3 V337.7 H445.4" stroke="#1a1a1a" stroke-width="1.2" fill="none"/>
<path d="M435.8,277.1 H438.7 V337.7 H435.8" stroke="#1a1a1a" stroke-width="1.2" fill="none"/>
<path d="M426.2,306.9 H429.0 V337.7 H426.2" stroke="#1a1a1a" stroke-width="1.2" fill="none"/>
<text x="407.90" y="261.20" font-size="9.05" textLength="34.00" lengthAdjust="spacingAndGlyphs" stroke="#1a1a1a" stroke-width="0.22">P=0.0006</text>
<text x="398.30" y="295.20" font-size="9.05" textLength="33.60" lengthAdjust="spacingAndGlyphs" stroke="#1a1a1a" stroke-width="0.22">P=0.0028</text>
<text x="388.70" y="335.60" font-size="9.05" textLength="33.60" lengthAdjust="spacingAndGlyphs" stroke="#1a1a1a" stroke-width="0.22">P=0.0060</text>
<text x="246.10" y="402.00" font-size="11.40" font-weight="bold" fill="#000" textLength="7.60" lengthAdjust="spacingAndGlyphs">E</text>
<text x="267.50" y="411.00" font-size="11.14" textLength="54.80" lengthAdjust="spacingAndGlyphs" stroke="#1a1a1a" stroke-width="0.22">Cytoplasmic</text>
<text x="361.50" y="411.00" font-size="11.14" textLength="34.30" lengthAdjust="spacingAndGlyphs" stroke="#1a1a1a" stroke-width="0.22">Nuclear</text>
<line x1="264.00" y1="415.50" x2="325.00" y2="415.50" stroke="#000" stroke-width="1.6"/>
<line x1="348.00" y1="415.50" x2="409.20" y2="415.50" stroke="#000" stroke-width="1.6"/>
<line x1="260.80" y1="425.20" x2="266.20" y2="425.20" stroke="#1a1a1a" stroke-width="1.15"/>
<line x1="260.80" y1="439.60" x2="266.20" y2="439.60" stroke="#1a1a1a" stroke-width="1.15"/>
<line x1="281.50" y1="425.20" x2="286.90" y2="425.20" stroke="#1a1a1a" stroke-width="1.15"/>
<line x1="281.50" y1="439.60" x2="286.90" y2="439.60" stroke="#1a1a1a" stroke-width="1.15"/>
<line x1="284.20" y1="437.00" x2="284.20" y2="442.20" stroke="#1a1a1a" stroke-width="1.15"/>
<line x1="302.30" y1="425.20" x2="307.70" y2="425.20" stroke="#1a1a1a" stroke-width="1.15"/>
<line x1="305.00" y1="422.60" x2="305.00" y2="427.80" stroke="#1a1a1a" stroke-width="1.15"/>
<line x1="302.30" y1="439.60" x2="307.70" y2="439.60" stroke="#1a1a1a" stroke-width="1.15"/>
<line x1="323.50" y1="425.20" x2="328.90" y2="425.20" stroke="#1a1a1a" stroke-width="1.15"/>
<line x1="326.20" y1="422.60" x2="326.20" y2="427.80" stroke="#1a1a1a" stroke-width="1.15"/>
<line x1="323.50" y1="439.60" x2="328.90" y2="439.60" stroke="#1a1a1a" stroke-width="1.15"/>
<line x1="326.20" y1="437.00" x2="326.20" y2="442.20" stroke="#1a1a1a" stroke-width="1.15"/>
<line x1="344.60" y1="425.20" x2="350.00" y2="425.20" stroke="#1a1a1a" stroke-width="1.15"/>
<line x1="344.60" y1="439.60" x2="350.00" y2="439.60" stroke="#1a1a1a" stroke-width="1.15"/>
<line x1="365.80" y1="425.20" x2="371.20" y2="425.20" stroke="#1a1a1a" stroke-width="1.15"/>
<line x1="365.80" y1="439.60" x2="371.20" y2="439.60" stroke="#1a1a1a" stroke-width="1.15"/>
<line x1="368.50" y1="437.00" x2="368.50" y2="442.20" stroke="#1a1a1a" stroke-width="1.15"/>
<line x1="386.30" y1="425.20" x2="391.70" y2="425.20" stroke="#1a1a1a" stroke-width="1.15"/>
<line x1="389.00" y1="422.60" x2="389.00" y2="427.80" stroke="#1a1a1a" stroke-width="1.15"/>
<line x1="386.30" y1="439.60" x2="391.70" y2="439.60" stroke="#1a1a1a" stroke-width="1.15"/>
<line x1="407.50" y1="425.20" x2="412.90" y2="425.20" stroke="#1a1a1a" stroke-width="1.15"/>
<line x1="410.20" y1="422.60" x2="410.20" y2="427.80" stroke="#1a1a1a" stroke-width="1.15"/>
<line x1="407.50" y1="439.60" x2="412.90" y2="439.60" stroke="#1a1a1a" stroke-width="1.15"/>
<line x1="410.20" y1="437.00" x2="410.20" y2="442.20" stroke="#1a1a1a" stroke-width="1.15"/>
<text x="425.20" y="427.80" font-size="10.09" textLength="28.40" lengthAdjust="spacingAndGlyphs" stroke="#1a1a1a" stroke-width="0.22">Wnt3a</text>
<text x="425.20" y="441.80" font-size="10.09" textLength="11.30" lengthAdjust="spacingAndGlyphs" stroke="#1a1a1a" stroke-width="0.22">PT</text>
<defs><filter id="bl" x="-20%" y="-80%" width="140%" height="260%"><feGaussianBlur stdDeviation="0.85"/></filter><filter id="bl2" x="-20%" y="-80%" width="140%" height="260%"><feGaussianBlur stdDeviation="0.8"/></filter></defs>
<rect x="253.90" y="447.90" width="167.10" height="13.70" fill="#c6c6c6" stroke="#111" stroke-width="1.7"/>
<rect x="253.90" y="469.40" width="167.10" height="13.80" fill="#c6c6c6" stroke="#111" stroke-width="1.7"/>
<rect x="253.90" y="491.20" width="167.10" height="12.60" fill="#c6c6c6" stroke="#111" stroke-width="1.7"/>
<rect x="255.60" y="455.70" width="16.20" height="2.60" rx="1.30" fill="#141414" fill-opacity="0.75" filter="url(#bl)"/>
<rect x="276.80" y="454.40" width="16.00" height="5.80" rx="2.90" fill="#141414" fill-opacity="1.0" filter="url(#bl)"/>
<rect x="294.60" y="453.00" width="18.40" height="8.80" rx="3.00" fill="#141414" fill-opacity="1.0" filter="url(#bl)"/>
<rect x="316.20" y="454.60" width="13.80" height="3.40" rx="1.70" fill="#141414" fill-opacity="0.9" filter="url(#bl)"/>
<rect x="334.40" y="455.00" width="16.00" height="3.00" rx="1.50" fill="#141414" fill-opacity="0.85" filter="url(#bl)"/>
<rect x="356.20" y="455.20" width="17.60" height="3.00" rx="1.50" fill="#141414" fill-opacity="0.85" filter="url(#bl)"/>
<rect x="379.40" y="455.40" width="15.80" height="4.60" rx="2.30" fill="#141414" fill-opacity="1.0" filter="url(#bl)"/>
<rect x="255.00" y="474.40" width="18.60" height="4.00" rx="2.00" fill="#141414" fill-opacity="1.0" filter="url(#bl)"/>
<rect x="277.50" y="473.60" width="15.10" height="3.80" rx="1.90" fill="#141414" fill-opacity="1.0" filter="url(#bl)"/>
<rect x="295.00" y="472.90" width="17.60" height="4.00" rx="2.00" fill="#141414" fill-opacity="1.0" filter="url(#bl)"/>
<rect x="314.70" y="472.00" width="14.30" height="3.80" rx="1.90" fill="#141414" fill-opacity="1.0" filter="url(#bl)"/>
<rect x="332.50" y="471.60" width="16.90" height="3.80" rx="1.90" fill="#141414" fill-opacity="1.0" filter="url(#bl)"/>
<rect x="353.60" y="471.10" width="20.50" height="4.60" rx="2.30" fill="#141414" fill-opacity="1.0" filter="url(#bl)"/>
<rect x="377.70" y="471.30" width="17.90" height="4.20" rx="2.10" fill="#141414" fill-opacity="1.0" filter="url(#bl)"/>
<rect x="399.30" y="472.80" width="20.50" height="3.60" rx="1.80" fill="#141414" fill-opacity="1.0" filter="url(#bl)"/>
<circle cx="301.00" cy="479.90" r="1.3" fill="#111"/>
<rect x="272.80" y="497.50" width="15.20" height="3.00" rx="1.50" fill="#141414" fill-opacity="0.18" filter="url(#bl)"/>
<rect x="293.00" y="497.60" width="15.30" height="4.00" rx="2.00" fill="#141414" fill-opacity="1.0" filter="url(#bl)"/>
<rect x="313.60" y="497.90" width="11.40" height="2.60" rx="1.30" fill="#141414" fill-opacity="0.16" filter="url(#bl)"/>
<rect x="330.80" y="495.90" width="16.80" height="4.00" rx="2.00" fill="#141414" fill-opacity="1.0" filter="url(#bl)"/>
<rect x="352.60" y="494.30" width="20.80" height="7.20" rx="3.00" fill="#141414" fill-opacity="1.0" filter="url(#bl)"/>
<rect x="375.40" y="493.40" width="19.80" height="10.00" rx="3.00" fill="#141414" fill-opacity="1.0" filter="url(#bl)"/>
<rect x="400.20" y="497.10" width="19.60" height="3.40" rx="1.70" fill="#141414" fill-opacity="0.9" filter="url(#bl)"/>
<text x="424.90" y="457.70" font-size="11.14" textLength="31.50" lengthAdjust="spacingAndGlyphs" stroke="#1a1a1a" stroke-width="0.22">Ctnnb1</text>
<text x="424.90" y="479.00" font-size="11.14" textLength="31.50" lengthAdjust="spacingAndGlyphs" stroke="#1a1a1a" stroke-width="0.22">β-Actin</text>
<text x="424.90" y="500.80" font-size="11.14" textLength="27.80" lengthAdjust="spacingAndGlyphs" stroke="#1a1a1a" stroke-width="0.22">Hdac1</text>
<text x="246.10" y="531.20" font-size="11.40" font-weight="bold" fill="#000" textLength="6.96" lengthAdjust="spacingAndGlyphs">F</text>
<text x="309.50" y="538.80" font-size="9.28" textLength="55.80" lengthAdjust="spacingAndGlyphs" stroke="#1a1a1a" stroke-width="0.22">MSC Treatment</text>
<rect x="381.50" y="530.80" width="9.90" height="10.10" fill="#b0133a"/>
<text x="394.50" y="538.10" font-size="9.28" textLength="22.40" lengthAdjust="spacingAndGlyphs" stroke="#1a1a1a" stroke-width="0.22">No PT</text>
<rect x="432.90" y="530.80" width="10.10" height="10.10" fill="#2f5391"/>
<text x="445.50" y="538.10" font-size="9.28" textLength="9.30" lengthAdjust="spacingAndGlyphs" stroke="#1a1a1a" stroke-width="0.22">PT</text>
<text x="304.20" y="555.70" font-size="11.14" font-style="italic" textLength="18.00" lengthAdjust="spacingAndGlyphs" stroke="#1a1a1a" stroke-width="0.22">Lef1</text>
<text x="387.70" y="555.70" font-size="11.14" font-style="italic" textLength="24.00" lengthAdjust="spacingAndGlyphs" stroke="#1a1a1a" stroke-width="0.22">Axin2</text>
<text x="469.20" y="555.70" font-size="11.14" font-style="italic" textLength="28.60" lengthAdjust="spacingAndGlyphs" stroke="#1a1a1a" stroke-width="0.22">Rn18s</text>
<text x="268.00" y="652.30" font-size="10.09" textLength="69.30" lengthAdjust="spacingAndGlyphs" transform="rotate(-90 268.00 652.30)" stroke="#1a1a1a" stroke-width="0.22">mRNA expression</text>
<text x="253.50" y="684.90" font-size="9.51" textLength="23.50" lengthAdjust="spacingAndGlyphs" stroke="#1a1a1a" stroke-width="0.22">Wnt3a</text>
<line x1="284.60" y1="563.50" x2="284.60" y2="672.30" stroke="#1a1a1a" stroke-width="1.3"/>
<line x1="284.00" y1="671.70" x2="340.50" y2="671.70" stroke="#1a1a1a" stroke-width="1.3"/>
<line x1="281.30" y1="671.70" x2="284.60" y2="671.70" stroke="#1a1a1a" stroke-width="1.1"/>
<text x="278.20" y="674.30" font-size="8.82" text-anchor="end" textLength="4.23" lengthAdjust="spacingAndGlyphs" stroke="#1a1a1a" stroke-width="0.22">0</text>
<line x1="281.30" y1="645.12" x2="284.60" y2="645.12" stroke="#1a1a1a" stroke-width="1.1"/>
<text x="278.20" y="647.73" font-size="8.82" text-anchor="end" textLength="4.23" lengthAdjust="spacingAndGlyphs" stroke="#1a1a1a" stroke-width="0.22">1</text>
<line x1="281.30" y1="618.55" x2="284.60" y2="618.55" stroke="#1a1a1a" stroke-width="1.1"/>
<text x="278.20" y="621.15" font-size="8.82" text-anchor="end" textLength="4.23" lengthAdjust="spacingAndGlyphs" stroke="#1a1a1a" stroke-width="0.22">2</text>
<line x1="281.30" y1="591.98" x2="284.60" y2="591.98" stroke="#1a1a1a" stroke-width="1.1"/>
<text x="278.20" y="594.58" font-size="8.82" text-anchor="end" textLength="4.23" lengthAdjust="spacingAndGlyphs" stroke="#1a1a1a" stroke-width="0.22">3</text>
<line x1="281.30" y1="565.40" x2="284.60" y2="565.40" stroke="#1a1a1a" stroke-width="1.1"/>
<text x="278.20" y="568.00" font-size="8.82" text-anchor="end" textLength="4.23" lengthAdjust="spacingAndGlyphs" stroke="#1a1a1a" stroke-width="0.22">4</text>
<line x1="284.60" y1="671.70" x2="284.60" y2="675.10" stroke="#1a1a1a" stroke-width="1.1"/>
<line x1="311.50" y1="671.70" x2="311.50" y2="675.10" stroke="#1a1a1a" stroke-width="1.1"/>
<line x1="338.50" y1="671.70" x2="338.50" y2="675.10" stroke="#1a1a1a" stroke-width="1.1"/>
<rect x="289.00" y="645.12" width="8.70" height="26.58" fill="#b0133a"/>
<line x1="293.35" y1="637.95" x2="293.35" y2="652.30" stroke="#1a1a1a" stroke-width="1.1"/>
<line x1="290.75" y1="637.95" x2="295.95" y2="637.95" stroke="#1a1a1a" stroke-width="1.1"/>
<rect x="297.70" y="654.16" width="9.20" height="17.54" fill="#2f5391"/>
<line x1="302.30" y1="649.38" x2="302.30" y2="658.94" stroke="#1a1a1a" stroke-width="1.1"/>
<line x1="299.70" y1="649.38" x2="304.90" y2="649.38" stroke="#1a1a1a" stroke-width="1.1"/>
<rect x="316.00" y="591.18" width="8.60" height="80.52" fill="#b0133a"/>
<line x1="320.30" y1="579.75" x2="320.30" y2="602.61" stroke="#1a1a1a" stroke-width="1.1"/>
<line x1="317.70" y1="579.75" x2="322.90" y2="579.75" stroke="#1a1a1a" stroke-width="1.1"/>
<rect x="324.60" y="643.80" width="9.10" height="27.90" fill="#2f5391"/>
<line x1="329.15" y1="639.54" x2="329.15" y2="648.05" stroke="#1a1a1a" stroke-width="1.1"/>
<line x1="326.55" y1="639.54" x2="331.75" y2="639.54" stroke="#1a1a1a" stroke-width="1.1"/>
<path d="M319.8,578.3 V574.4 H331.9 V578.3" stroke="#1a1a1a" stroke-width="1.1" fill="none"/>
<text x="325.80" y="573.60" font-size="11.14" text-anchor="middle" textLength="7.47" lengthAdjust="spacingAndGlyphs" stroke="#1a1a1a" stroke-width="0.22">**</text>
<line x1="373.30" y1="564.80" x2="373.30" y2="672.10" stroke="#1a1a1a" stroke-width="1.3"/>
<line x1="372.70" y1="671.50" x2="426.50" y2="671.50" stroke="#1a1a1a" stroke-width="1.3"/>
<line x1="370.00" y1="671.50" x2="373.30" y2="671.50" stroke="#1a1a1a" stroke-width="1.1"/>
<text x="367.20" y="674.10" font-size="8.82" text-anchor="end" textLength="4.23" lengthAdjust="spacingAndGlyphs" stroke="#1a1a1a" stroke-width="0.22">0</text>
<line x1="370.00" y1="654.20" x2="373.30" y2="654.20" stroke="#1a1a1a" stroke-width="1.1"/>
<text x="367.20" y="656.80" font-size="8.82" text-anchor="end" textLength="4.23" lengthAdjust="spacingAndGlyphs" stroke="#1a1a1a" stroke-width="0.22">5</text>
<line x1="370.00" y1="636.90" x2="373.30" y2="636.90" stroke="#1a1a1a" stroke-width="1.1"/>
<text x="367.20" y="639.50" font-size="8.82" text-anchor="end" textLength="8.45" lengthAdjust="spacingAndGlyphs" stroke="#1a1a1a" stroke-width="0.22">10</text>
<line x1="370.00" y1="619.60" x2="373.30" y2="619.60" stroke="#1a1a1a" stroke-width="1.1"/>
<text x="367.20" y="622.20" font-size="8.82" text-anchor="end" textLength="8.45" lengthAdjust="spacingAndGlyphs" stroke="#1a1a1a" stroke-width="0.22">15</text>
<line x1="370.00" y1="602.30" x2="373.30" y2="602.30" stroke="#1a1a1a" stroke-width="1.1"/>
<text x="367.20" y="604.90" font-size="8.82" text-anchor="end" textLength="8.45" lengthAdjust="spacingAndGlyphs" stroke="#1a1a1a" stroke-width="0.22">20</text>
<line x1="370.00" y1="585.00" x2="373.30" y2="585.00" stroke="#1a1a1a" stroke-width="1.1"/>
<text x="367.20" y="587.60" font-size="8.82" text-anchor="end" textLength="8.45" lengthAdjust="spacingAndGlyphs" stroke="#1a1a1a" stroke-width="0.22">25</text>
<line x1="370.00" y1="567.70" x2="373.30" y2="567.70" stroke="#1a1a1a" stroke-width="1.1"/>
<text x="367.20" y="570.30" font-size="8.82" text-anchor="end" textLength="8.45" lengthAdjust="spacingAndGlyphs" stroke="#1a1a1a" stroke-width="0.22">30</text>
<line x1="373.30" y1="671.50" x2="373.30" y2="674.90" stroke="#1a1a1a" stroke-width="1.1"/>
<line x1="398.70" y1="671.50" x2="398.70" y2="674.90" stroke="#1a1a1a" stroke-width="1.1"/>
<line x1="424.60" y1="671.50" x2="424.60" y2="674.90" stroke="#1a1a1a" stroke-width="1.1"/>
<rect x="377.10" y="667.69" width="8.70" height="3.81" fill="#b0133a"/>
<rect x="385.80" y="665.96" width="9.00" height="5.54" fill="#2f5391"/>
<rect x="402.50" y="583.62" width="8.70" height="87.88" fill="#b0133a"/>
<line x1="406.85" y1="579.46" x2="406.85" y2="587.77" stroke="#1a1a1a" stroke-width="1.1"/>
<line x1="404.25" y1="579.46" x2="409.45" y2="579.46" stroke="#1a1a1a" stroke-width="1.1"/>
<rect x="411.20" y="611.30" width="9.00" height="60.20" fill="#2f5391"/>
<line x1="415.70" y1="600.92" x2="415.70" y2="621.68" stroke="#1a1a1a" stroke-width="1.1"/>
<line x1="413.10" y1="600.92" x2="418.30" y2="600.92" stroke="#1a1a1a" stroke-width="1.1"/>
<path d="M406.3,577.7 V573.5 H418.8 V577.7" stroke="#1a1a1a" stroke-width="1.1" fill="none"/>
<text x="412.20" y="572.80" font-size="11.14" text-anchor="middle" textLength="3.74" lengthAdjust="spacingAndGlyphs" stroke="#1a1a1a" stroke-width="0.22">*</text>
<line x1="454.60" y1="562.00" x2="454.60" y2="672.10" stroke="#1a1a1a" stroke-width="1.3"/>
<line x1="454.00" y1="671.50" x2="512.30" y2="671.50" stroke="#1a1a1a" stroke-width="1.3"/>
<line x1="451.30" y1="671.50" x2="454.60" y2="671.50" stroke="#1a1a1a" stroke-width="1.1"/>
<text x="448.00" y="674.10" font-size="8.82" text-anchor="end" textLength="4.23" lengthAdjust="spacingAndGlyphs" stroke="#1a1a1a" stroke-width="0.22">0</text>
<line x1="451.30" y1="644.67" x2="454.60" y2="644.67" stroke="#1a1a1a" stroke-width="1.1"/>
<text x="448.00" y="647.27" font-size="8.82" text-anchor="end" textLength="4.23" lengthAdjust="spacingAndGlyphs" stroke="#1a1a1a" stroke-width="0.22">1</text>
<line x1="451.30" y1="617.85" x2="454.60" y2="617.85" stroke="#1a1a1a" stroke-width="1.1"/>
<text x="448.00" y="620.45" font-size="8.82" text-anchor="end" textLength="4.23" lengthAdjust="spacingAndGlyphs" stroke="#1a1a1a" stroke-width="0.22">2</text>
<line x1="451.30" y1="591.03" x2="454.60" y2="591.03" stroke="#1a1a1a" stroke-width="1.1"/>
<text x="448.00" y="593.63" font-size="8.82" text-anchor="end" textLength="4.23" lengthAdjust="spacingAndGlyphs" stroke="#1a1a1a" stroke-width="0.22">3</text>
<line x1="451.30" y1="564.20" x2="454.60" y2="564.20" stroke="#1a1a1a" stroke-width="1.1"/>
<text x="448.00" y="566.80" font-size="8.82" text-anchor="end" textLength="4.23" lengthAdjust="spacingAndGlyphs" stroke="#1a1a1a" stroke-width="0.22">4</text>
<line x1="454.60" y1="671.50" x2="454.60" y2="674.90" stroke="#1a1a1a" stroke-width="1.1"/>
<line x1="481.90" y1="671.50" x2="481.90" y2="674.90" stroke="#1a1a1a" stroke-width="1.1"/>
<line x1="509.40" y1="671.50" x2="509.40" y2="674.90" stroke="#1a1a1a" stroke-width="1.1"/>
<rect x="459.40" y="644.67" width="8.70" height="26.83" fill="#b0133a"/>
<line x1="463.75" y1="641.99" x2="463.75" y2="647.36" stroke="#1a1a1a" stroke-width="1.1"/>
<line x1="461.15" y1="641.99" x2="466.35" y2="641.99" stroke="#1a1a1a" stroke-width="1.1"/>
<rect x="468.10" y="641.46" width="8.60" height="30.04" fill="#2f5391"/>
<line x1="472.40" y1="637.43" x2="472.40" y2="645.48" stroke="#1a1a1a" stroke-width="1.1"/>
<line x1="469.80" y1="637.43" x2="475.00" y2="637.43" stroke="#1a1a1a" stroke-width="1.1"/>
<rect x="486.90" y="650.84" width="8.70" height="20.66" fill="#b0133a"/>
<line x1="491.25" y1="648.16" x2="491.25" y2="653.53" stroke="#1a1a1a" stroke-width="1.1"/>
<line x1="488.65" y1="648.16" x2="493.85" y2="648.16" stroke="#1a1a1a" stroke-width="1.1"/>
<rect x="495.60" y="636.09" width="8.60" height="35.41" fill="#2f5391"/>
<line x1="499.90" y1="632.87" x2="499.90" y2="639.31" stroke="#1a1a1a" stroke-width="1.1"/>
<line x1="497.30" y1="632.87" x2="502.50" y2="632.87" stroke="#1a1a1a" stroke-width="1.1"/>
<line x1="296.10" y1="682.90" x2="300.70" y2="682.90" stroke="#1a1a1a" stroke-width="1.2"/>
<line x1="322.10" y1="682.90" x2="326.70" y2="682.90" stroke="#1a1a1a" stroke-width="1.2"/>
<line x1="324.40" y1="680.40" x2="324.40" y2="685.40" stroke="#1a1a1a" stroke-width="1.2"/>
<line x1="383.30" y1="682.90" x2="387.90" y2="682.90" stroke="#1a1a1a" stroke-width="1.2"/>
<line x1="408.70" y1="682.90" x2="413.30" y2="682.90" stroke="#1a1a1a" stroke-width="1.2"/>
<line x1="411.00" y1="680.40" x2="411.00" y2="685.40" stroke="#1a1a1a" stroke-width="1.2"/>
<line x1="466.10" y1="682.90" x2="470.70" y2="682.90" stroke="#1a1a1a" stroke-width="1.2"/>
<line x1="493.50" y1="682.90" x2="498.10" y2="682.90" stroke="#1a1a1a" stroke-width="1.2"/>
<line x1="495.80" y1="680.40" x2="495.80" y2="685.40" stroke="#1a1a1a" stroke-width="1.2"/>
<path d="M0.75,0.75 H519.5 V692 H0.75Z" fill="none" stroke="#000" stroke-width="1.6"/>
<rect x="0" y="691.3" width="520" height="1.7" fill="#000"/>
</svg></body></html>
